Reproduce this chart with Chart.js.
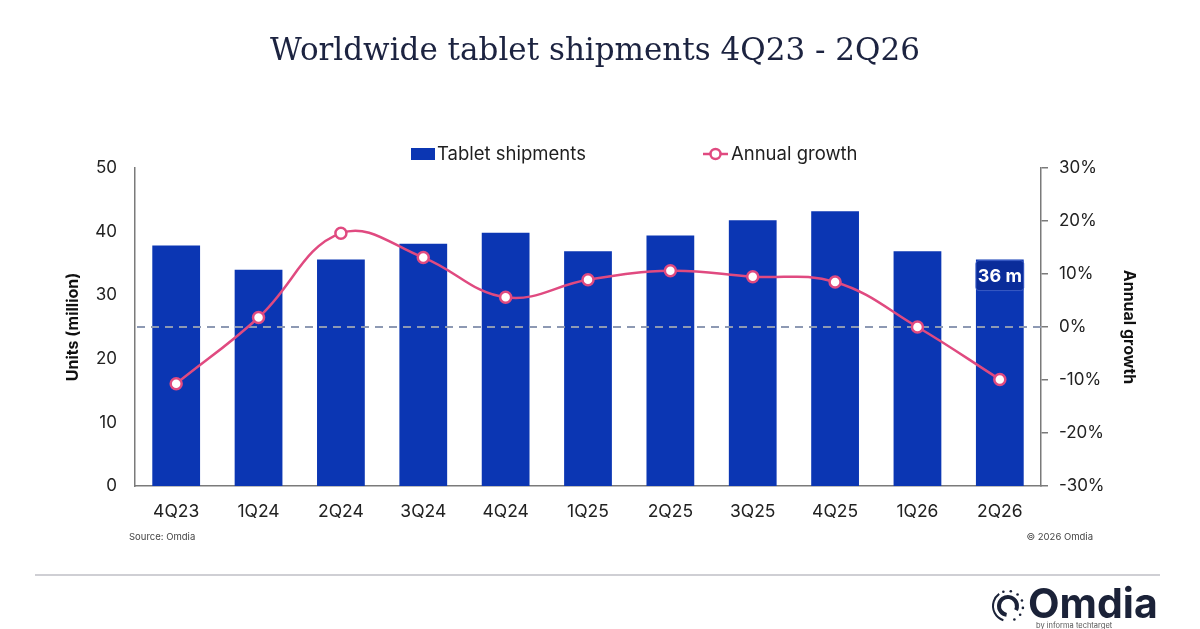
<!DOCTYPE html>
<html>
<head>
<meta charset="utf-8">
<script src="https://cdn.jsdelivr.net/npm/chart.js@4.4.1/dist/chart.umd.min.js"></script>
<style>
  html, body { margin: 0; padding: 0; background: #fff; }
  #wrap { width: 1200px; height: 629px; }
</style>
</head>
<body>
<div id="wrap"><canvas id="chart" width="1200" height="629"></canvas></div>
<script>
// data
var quarters = ['4Q23', '1Q24', '2Q24', '3Q24', '4Q24', '1Q25', '2Q25', '3Q25', '4Q25', '1Q26', '2Q26'];
var shipments = [37.8, 34.0, 35.6, 38.1, 39.8, 36.9, 39.4, 41.8, 43.2, 36.9, 35.6];   // units, million
var growth = [-10.7, 1.8, 17.7, 13.1, 5.6, 8.9, 10.6, 9.5, 8.5, 0.0, -9.9];          // annual growth, %
var unitTicks = [0, 10, 20, 30, 40, 50];
var growthTicks = [-30, -20, -10, 0, 10, 20, 30];

var BLUE = '#0b36b3';
var PINK = '#e04a80';
var FONT = 'Inter, "Noto Sans", sans-serif';

var PAD_LEFT = 40, PAD_RIGHT = 50;
var AREA_LEFT = 135, AREA_RIGHT = 1041;

/* extra bits: legend, zero line, value tag, footer, logo */
var extras = {
  id: 'extras',
  afterDatasetDraw: function (chart, args) {
    if (args.index !== 0) return;
    // dashed 0% line sits over the bars, under the growth line
    var ctx = chart.ctx;
    var y = chart.scales.y1.getPixelForValue(0);
    ctx.save();
    ctx.strokeStyle = '#8d99b3';
    ctx.lineWidth = 2;
    ctx.setLineDash([8, 6]);
    ctx.beginPath();
    ctx.moveTo(chart.chartArea.left + 2, y);
    ctx.lineTo(chart.chartArea.right, y);
    ctx.stroke();
    ctx.restore();

    // "36 m" tag on the last bar
    var last = chart.getDatasetMeta(0).data[quarters.length - 1];
    var w = last.width;
    ctx.save();
    ctx.fillStyle = '#0a2c9a';
    ctx.strokeStyle = '#3a5bc4';
    ctx.lineWidth = 1;
    ctx.beginPath();
    ctx.roundRect(last.x - w / 2, last.y + 1, w, 30, 3);
    ctx.fill();
    ctx.stroke();
    ctx.fillStyle = '#ffffff';
    ctx.font = 'bold 18px ' + FONT;
    ctx.textAlign = 'center';
    ctx.textBaseline = 'middle';
    ctx.fillText(Math.round(shipments[quarters.length - 1]) + ' m', last.x, last.y + 17);
    ctx.restore();
  },
  afterDraw: function (chart) {
    var ctx = chart.ctx;
    ctx.save();

    // legend
    ctx.textBaseline = 'middle';
    ctx.textAlign = 'left';
    ctx.font = '18.5px ' + FONT;
    ctx.fillStyle = BLUE;
    ctx.fillRect(411, 148, 24, 12);
    ctx.fillStyle = '#1f1f1f';
    ctx.fillText('Tablet shipments', 437, 154);

    ctx.strokeStyle = PINK;
    ctx.lineWidth = 2.5;
    ctx.beginPath();
    ctx.moveTo(703, 154);
    ctx.lineTo(728, 154);
    ctx.stroke();
    ctx.beginPath();
    ctx.arc(715.5, 154, 5, 0, Math.PI * 2);
    ctx.fillStyle = '#fff';
    ctx.fill();
    ctx.stroke();
    ctx.fillStyle = '#1f1f1f';
    ctx.fillText('Annual growth', 731, 154);

    // footer notes
    ctx.font = '9.5px ' + FONT;
    ctx.fillStyle = '#444';
    ctx.fillText('Source: Omdia', 129, 537);
    ctx.textAlign = 'right';
    ctx.fillText('\u00a9 2026 Omdia', 1093, 537);

    // separator
    ctx.strokeStyle = '#cfcfd4';
    ctx.lineWidth = 2;
    ctx.beginPath();
    ctx.moveTo(35, 575);
    ctx.lineTo(1160, 575);
    ctx.stroke();

    // Omdia logo
    var cx = 1008, cy = 606;
    ctx.strokeStyle = '#1b2238';
    ctx.lineWidth = 4;
    ctx.beginPath();
    ctx.arc(cx, cy, 9, Math.PI * 0.55, Math.PI * 2.15);
    ctx.stroke();
    ctx.lineWidth = 2;
    ctx.beginPath();
    ctx.arc(cx, cy, 15, Math.PI * 0.6, Math.PI * 1.3);
    ctx.stroke();
    ctx.fillStyle = '#1b2238';
    for (var a = 1.4; a < 2.5; a += 0.16) {
      ctx.beginPath();
      ctx.arc(cx + 15 * Math.cos(Math.PI * a), cy + 15 * Math.sin(Math.PI * a), 1.3, 0, Math.PI * 2);
      ctx.fill();
    }
    ctx.textAlign = 'left';
    ctx.font = 'bold 41px ' + FONT;
    ctx.fillText('Omdia', 1028, 606);
    ctx.font = '7.5px ' + FONT;
    ctx.fillStyle = '#555';
    ctx.fillText('by informa techtarget', 1036, 626);

    ctx.restore();
  }
};

var ctx = document.getElementById('chart').getContext('2d');
new Chart(ctx, {
  data: {
    labels: quarters,
    datasets: [
      {
        type: 'bar',
        label: 'Tablet shipments',
        data: shipments,
        backgroundColor: BLUE,
        yAxisID: 'y',
        barPercentage: 0.58,
        categoryPercentage: 1.0,
        order: 1
      },
      {
        type: 'line',
        label: 'Annual growth',
        data: growth,
        borderColor: PINK,
        borderWidth: 2.5,
        tension: 0.4,
        pointRadius: 5.5,
        pointBorderWidth: 2.5,
        pointBackgroundColor: '#fff',
        pointBorderColor: PINK,
        yAxisID: 'y1',
        order: 0
      }
    ]
  },
  options: {
    responsive: false,
    animation: false,
    devicePixelRatio: 1,
    layout: { padding: { left: PAD_LEFT, right: PAD_RIGHT, top: 0, bottom: 92 } },
    plugins: {
      legend: { display: false },
      tooltip: { enabled: false },
      title: {
        display: true,
        text: 'Worldwide tablet shipments 4Q23 - 2Q26',
        color: '#1c2340',
        font: { family: '"DejaVu Serif", serif', size: 31, weight: 'normal' },
        padding: { top: 33, bottom: 97.8 }
      }
    },
    scales: {
      x: {
        grid: { display: false, drawTicks: false },
        border: { color: '#7a7a7a', width: 1.5 },
        ticks: { color: '#222', font: { family: FONT, size: 17.5 }, padding: 15 }
      },
      y: {
        position: 'left',
        min: 0,
        max: 50,
        afterBuildTicks: function (s) { s.ticks = unitTicks.map(function (v) { return { value: v }; }); },
        afterFit: function (s) { s.width = AREA_LEFT - PAD_LEFT; },
        grid: { display: false, drawTicks: false },
        border: { color: '#7a7a7a', width: 1.5 },
        ticks: { color: '#222', font: { family: FONT, size: 17 }, padding: 18 },
        title: {
          display: true,
          text: 'Units (million)',
          color: '#111',
          font: { family: FONT, size: 16, weight: 'bold' },
          padding: { top: 24, bottom: 0 }
        }
      },
      y1: {
        position: 'right',
        min: -30,
        max: 30,
        afterBuildTicks: function (s) { s.ticks = growthTicks.map(function (v) { return { value: v }; }); },
        afterFit: function (s) { s.width = (1200 - PAD_RIGHT) - AREA_RIGHT; },
        grid: { drawOnChartArea: false, drawTicks: true, tickLength: 7, color: '#7a7a7a', lineWidth: 1.5 },
        border: { color: '#7a7a7a', width: 1.5 },
        ticks: {
          color: '#222',
          font: { family: FONT, size: 17 },
          padding: 11,
          callback: function (v) { return v + '%'; }
        },
        title: {
          display: true,
          text: 'Annual growth',
          color: '#111',
          font: { family: FONT, size: 16, weight: 'bold' },
          padding: { top: 12, bottom: 0 }
        }
      }
    }
  },
  plugins: [extras]
});
</script>
</body>
</html>
